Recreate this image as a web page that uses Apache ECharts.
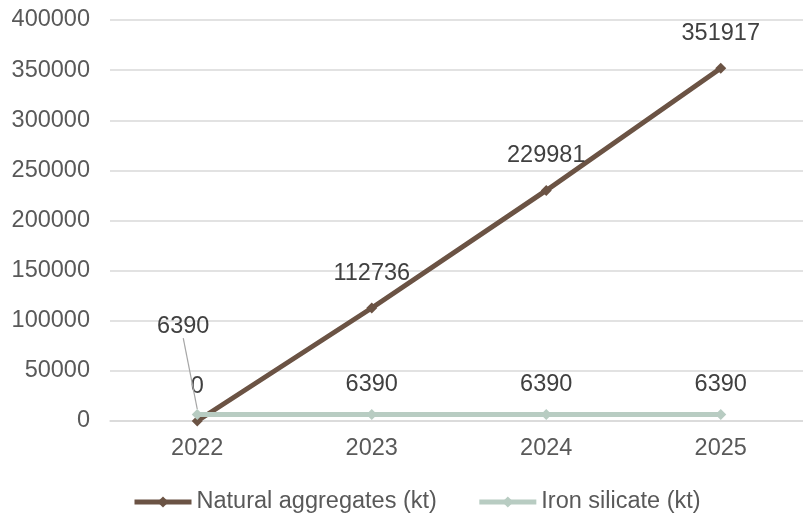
<!DOCTYPE html>
<html>
<head>
<meta charset="utf-8">
<script src="https://cdn.jsdelivr.net/npm/echarts@6/dist/echarts.min.js"></script>
<style>html,body{margin:0;padding:0;background:#fff}#c{width:803px;height:516px}</style>
</head>
<body>
<div id="c"></div>
<script>
var categories = ['2022', '2023', '2024', '2025'];
var naturalAggregates = [0, 112736, 229981, 351917];
var ironSilicate = [6390, 6390, 6390, 6390];
var seriesNames = ['Natural aggregates (kt)', 'Iron silicate (kt)'];

var chart = echarts.init(document.getElementById('c'));
var font = 'Liberation Sans, Arial, sans-serif';
var fs = 23.5;
var ironData = ironSilicate.map(function (v, i) {
  return i === 0 ? { value: v, labelLine: { show: true } } : { value: v };
});
chart.setOption({
  animation: false,
  backgroundColor: '#fff',
  grid: { left: 110, top: 20, width: 698, height: 401, outerBoundsMode: 'none', containLabel: false },
  xAxis: {
    type: 'category',
    data: categories,
    boundaryGap: true,
    axisLine: { lineStyle: { color: '#d9d9d9', width: 1.5 } },
    axisTick: { show: false },
    axisLabel: { color: '#595959', fontSize: fs, fontFamily: font, margin: 16 }
  },
  yAxis: {
    type: 'value',
    min: 0, max: 400000, interval: 50000,
    axisLine: { show: false },
    axisTick: { show: false },
    splitLine: { lineStyle: { color: '#d9d9d9', width: 1.5 } },
    axisLabel: { color: '#595959', fontSize: fs, fontFamily: font, margin: 20, formatter: function (v) { return String(v); } }
  },
  legend: {
    top: 485,
    left: 127,
    itemWidth: 57,
    itemHeight: 14,
    itemGap: 40,
    lineStyle: { width: 5 },
    textStyle: { color: '#595959', fontSize: fs, fontFamily: font },
    data: seriesNames
  },
  series: [
    {
      name: seriesNames[0],
      type: 'line',
      data: naturalAggregates,
      color: '#6b5344',
      lineStyle: { width: 5, color: '#6b5344' },
      symbol: 'diamond',
      symbolSize: 11,
      itemStyle: { color: '#6b5344' },
      label: { show: true, position: 'top', distance: 17, color: '#404040', fontSize: fs, fontFamily: font },
      z: 2
    },
    {
      name: seriesNames[1],
      type: 'line',
      data: ironData,
      color: '#b8ccc2',
      lineStyle: { width: 5, color: '#b8ccc2' },
      symbol: 'diamond',
      symbolSize: 11,
      itemStyle: { color: '#b8ccc2' },
      label: { show: true, position: 'top', distance: 13, color: '#404040', fontSize: fs, fontFamily: font },
      labelLine: { show: false, lineStyle: { color: '#a6a6a6', width: 1.2 } },
      labelLayout: function (params) {
        if (params.dataIndex === 0) {
          return { dx: -14, dy: -58 };
        }
      },
      z: 3
    }
  ]
});
</script>
</body>
</html>
